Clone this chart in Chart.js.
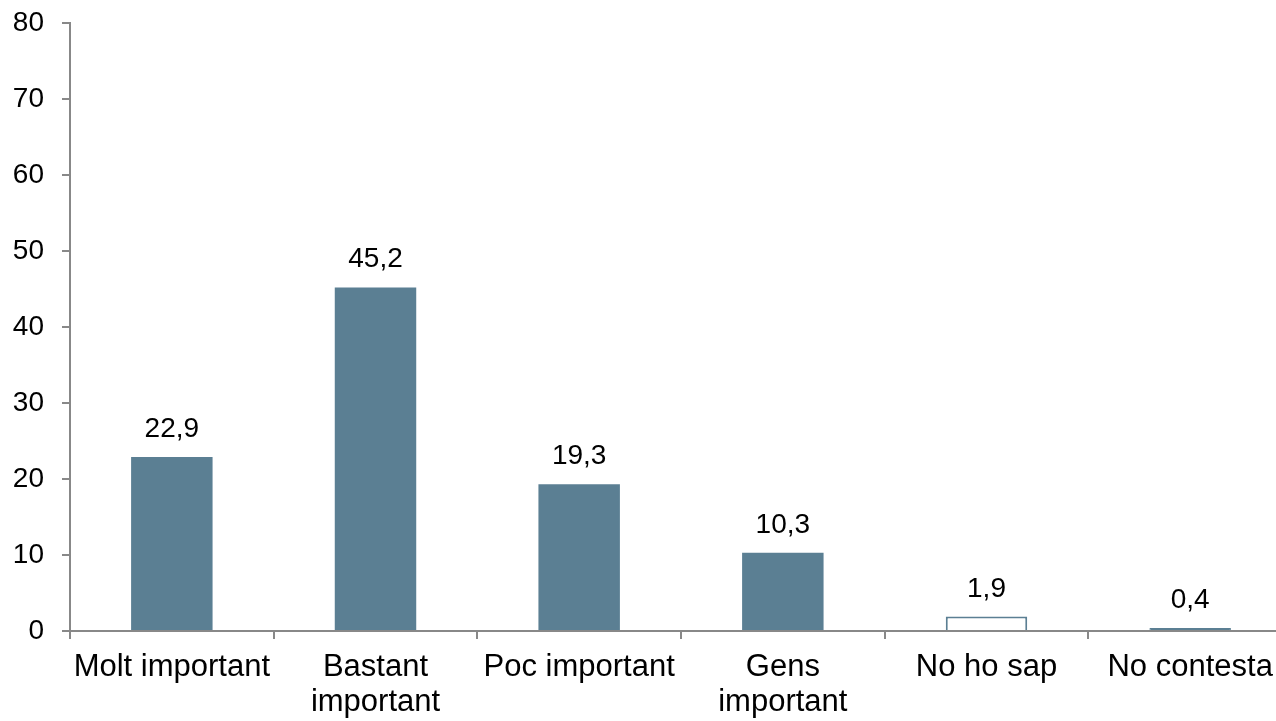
<!DOCTYPE html>
<html lang="ca">
<head>
<meta charset="UTF-8">
<title>Importància</title>
<script src="https://cdn.jsdelivr.net/npm/chart.js"></script>
<style>
  html, body { margin: 0; background: #fff; overflow: hidden; }
  /* the plot runs a little past the right edge of the window, as in the source */
  #wrap { width: 1292px; height: 721px; }
</style>
</head>
<body>
<div id="wrap"><canvas id="chart"></canvas></div>
<script>
// data
const categories = [
  'Molt important',
  ['Bastant', 'important'],
  'Poc important',
  ['Gens', 'important'],
  'No ho sap',
  'No contesta'
];
const values = [22.9, 45.2, 19.3, 10.3, 1.9, 0.4];
const yTicks = [0, 10, 20, 30, 40, 50, 60, 70, 80];

const barBlue = '#5B7F93';
const axisGrey = '#888888';
const fontFamily = '"Liberation Sans", Arial, sans-serif';

// draws the value on top of each bar, with a decimal comma
const valueLabels = {
  id: 'valueLabels',
  afterDatasetsDraw(chart) {
    const ctx = chart.ctx;
    const meta = chart.getDatasetMeta(0);
    ctx.save();
    ctx.font = '28px ' + fontFamily;
    ctx.fillStyle = '#000';
    ctx.textAlign = 'center';
    ctx.textBaseline = 'alphabetic';
    meta.data.forEach((bar, i) => {
      const txt = values[i].toFixed(1).replace('.', ',');
      ctx.fillText(txt, bar.x, bar.y - 20);
    });
    ctx.restore();
  }
};

new Chart(document.getElementById('chart'), {
  type: 'bar',
  data: {
    labels: categories,
    datasets: [{
      data: values,
      backgroundColor: values.map((v, i) => i === 4 ? '#ffffff' : barBlue),
      borderColor: barBlue,
      borderWidth: values.map((v, i) => i === 4 ? 2 : (i === 5 ? 1 : 0)),
      barPercentage: 0.4,
      categoryPercentage: 1.0
    }]
  },
  options: {
    responsive: true,
    maintainAspectRatio: false,
    animation: false,
    layout: { padding: { top: 23, right: 0, bottom: 0, left: 0 } },
    plugins: {
      legend: { display: false },
      tooltip: { enabled: false }
    },
    scales: {
      x: {
        grid: {
          display: true,
          drawOnChartArea: false,
          offset: true,
          color: axisGrey,
          lineWidth: 2,
          tickLength: 8
        },
        border: { color: axisGrey, width: 2 },
        ticks: {
          color: '#000',
          font: { family: fontFamily, size: 31, lineHeight: 1.12 },
          padding: 11,
          maxRotation: 0,
          autoSkip: false
        },
        afterFit(scale) { scale.height = 90; }
      },
      y: {
        min: 0,
        max: 80,
        afterBuildTicks(scale) { scale.ticks = yTicks.map(v => ({ value: v })); },
        grid: {
          display: true,
          drawOnChartArea: false,
          color: axisGrey,
          lineWidth: 2,
          tickLength: 8
        },
        border: { color: axisGrey, width: 2 },
        ticks: {
          color: '#000',
          font: { family: fontFamily, size: 28 },
          padding: 18
        },
        afterFit(scale) {
          scale.width = 70;
          scale.paddingTop = 0;
          scale.paddingBottom = 0;
        }
      }
    }
  },
  plugins: [valueLabels]
});
</script>
</body>
</html>
